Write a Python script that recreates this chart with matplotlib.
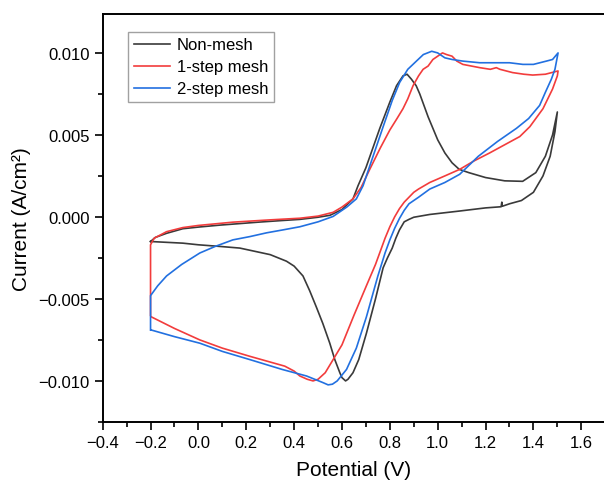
"""
CV comparison: non-mesh vs 1-step vs 2-step mesh electrodes.
Values read off the reference figure by eye.
"""

import numpy as np
import matplotlib
matplotlib.use('Agg')
import matplotlib.pyplot as plt
from matplotlib.ticker import MultipleLocator

plt.rcParams['font.family'] = ['Liberation Sans', 'DejaVu Sans']

# ---- data (potential V, current A/cm^2), one full cycle each ----
nonmesh_v = [-0.2, -0.18, -0.133, -0.065, 0.0, 0.09, 0.144, 0.25, 0.35, 0.424,
             0.50, 0.55, 0.60, 0.646, 0.667, 0.70, 0.758, 0.80, 0.828, 0.855,
             0.872, 0.89, 0.91, 0.925, 0.94, 0.96, 0.98, 1.0, 1.03, 1.06, 1.09,
             1.13, 1.20, 1.28, 1.355, 1.41, 1.45, 1.48, 1.50,
             1.49, 1.47, 1.44, 1.40, 1.35, 1.30, 1.27, 1.268, 1.265, 1.2,
             1.092, 0.967, 0.90, 0.88, 0.86, 0.84, 0.825, 0.81, 0.79, 0.772,
             0.74, 0.702, 0.67, 0.646, 0.625, 0.615, 0.60, 0.591, 0.57, 0.549,
             0.52, 0.493, 0.465, 0.437, 0.40, 0.368, 0.30, 0.173, 0.09, 0.0,
             -0.065, -0.2]
nonmesh_i = [-0.00150, -0.00125, -0.00100, -0.00072, -0.00062, -0.00050, -0.00044,
             -0.00032, -0.00022, -0.00015, -0.00002, 0.00010, 0.00045, 0.0011,
             0.0019, 0.0030, 0.0054, 0.0070, 0.0080, 0.0086, 0.0087, 0.0084,
             0.0080, 0.0075, 0.0069, 0.0061, 0.0054, 0.0047, 0.0039, 0.0033,
             0.0029, 0.0027, 0.0024, 0.0022, 0.00217, 0.0027, 0.0037, 0.0050,
             0.0064,
             0.0052, 0.0037, 0.0025, 0.0015, 0.0010, 0.0008, 0.00065, 0.0009,
             0.00062, 0.00055, 0.00036, 0.00015, -0.00002, -0.00015, -0.0003,
             -0.0008, -0.0013, -0.0019, -0.0025, -0.0031,
             -0.0050, -0.0071, -0.0087, -0.0095, -0.0099, -0.0100,
             -0.0098, -0.0095, -0.0087, -0.0077, -0.0065, -0.0055, -0.0045,
             -0.0036, -0.0030, -0.0027, -0.0023, -0.0019, -0.0018, -0.0017,
             -0.0016, -0.0015]

step1_v = [-0.2, -0.2, -0.185, -0.133, -0.065, 0.0, 0.144, 0.30, 0.424, 0.50,
           0.563, 0.60, 0.646, 0.68, 0.716, 0.76, 0.80, 0.83, 0.855, 0.875,
           0.897, 0.92, 0.939, 0.96, 0.98, 1.0, 1.02, 1.037, 1.06, 1.08, 1.105,
           1.176, 1.22, 1.245, 1.26, 1.313, 1.36, 1.397, 1.45, 1.503,
           1.50, 1.48, 1.44, 1.385, 1.343, 1.28, 1.217, 1.15, 1.092, 1.03,
           0.967, 0.92, 0.90, 0.88, 0.86, 0.84, 0.82, 0.80, 0.78, 0.76, 0.74,
           0.702, 0.65, 0.60, 0.563, 0.53, 0.50, 0.479, 0.455, 0.424, 0.40,
           0.361, 0.215, 0.10, 0.006, -0.10, -0.196]
step1_i = [-0.0060, -0.0017, -0.0013, -0.0009, -0.00065, -0.00052, -0.00032,
           -0.00018, -0.00008, 0.00005, 0.00028, 0.0006, 0.0011, 0.0018, 0.0029,
           0.0042, 0.0053, 0.0060, 0.0066, 0.0072, 0.0080, 0.0086, 0.0090,
           0.0092, 0.0096, 0.0098, 0.0100, 0.0099, 0.0098, 0.0095, 0.0093,
           0.0091, 0.0090, 0.0091, 0.0090, 0.0088, 0.0087, 0.00865, 0.0087,
           0.0089,
           0.0086, 0.0078, 0.0066, 0.0055, 0.0049, 0.0044, 0.0039, 0.0034,
           0.0029, 0.0025, 0.0021, 0.0017, 0.0015, 0.0012, 0.0009, 0.0005,
           0.0000, -0.0006, -0.0013, -0.0021, -0.0029,
           -0.0042, -0.0060, -0.0078, -0.0087, -0.0095,
           -0.0099, -0.0100, -0.0099, -0.0097, -0.0094, -0.0091, -0.0085,
           -0.0080, -0.0075, -0.0068, -0.0061]

step2_v = [-0.2, -0.2, -0.17, -0.133, -0.07, 0.006, 0.07, 0.144, 0.215, 0.285,
           0.35, 0.424, 0.50, 0.563, 0.62, 0.66, 0.688, 0.73, 0.772, 0.81,
           0.841, 0.875, 0.911, 0.94, 0.975, 1.00, 1.03, 1.06, 1.105, 1.176,
           1.25, 1.30, 1.356, 1.40, 1.454, 1.48, 1.503,
           1.49, 1.475, 1.45, 1.426, 1.38, 1.329, 1.25, 1.17, 1.092, 1.03,
           0.967, 0.92, 0.90, 0.88, 0.86, 0.84, 0.82, 0.80, 0.78, 0.75,
           0.702, 0.66, 0.619, 0.58, 0.56, 0.542, 0.52, 0.452, 0.35, 0.215,
           0.10, 0.006, -0.10, -0.196]
step2_i = [-0.0069, -0.0048, -0.0042, -0.0036, -0.0029, -0.0022, -0.0018,
           -0.0014, -0.0012, -0.00097, -0.0008, -0.0006, -0.0003, 0.00003,
           0.0006, 0.0011, 0.0019, 0.0037, 0.0055, 0.0071, 0.0082, 0.0090,
           0.0095, 0.0099, 0.0101, 0.0100, 0.0097, 0.0096, 0.0095, 0.0094,
           0.0094, 0.0094, 0.0093, 0.0093, 0.0095, 0.0096, 0.0100,
           0.0090, 0.0084, 0.0076, 0.0068, 0.0060, 0.0054, 0.0046, 0.0037,
           0.0026, 0.0021, 0.0017, 0.0012, 0.0010, 0.0008, 0.0004, -0.0001,
           -0.0007, -0.0014, -0.0022, -0.0036,
           -0.0061, -0.0080, -0.0093, -0.0100, -0.0102,
           -0.01024, -0.0101, -0.0097, -0.0093, -0.0087, -0.0082, -0.0077,
           -0.0073, -0.0069]

labels = ['Non-mesh', '1-step mesh', '2-step mesh']
colors = ['#3a3a3a', '#f23c3c', '#2270e0']

fig = plt.figure(figsize=(6.04, 4.85), dpi=100)
# right spine sits just outside the picture, like the cropped original
ax = fig.add_axes([0.170, 0.128, 0.832, 0.842])

series = [(nonmesh_v, nonmesh_i), (step1_v, step1_i), (step2_v, step2_i)]
for (v, i), lab, c in zip(series, labels, colors):
    ax.plot(v, i, color=c, lw=1.2, label=lab)

ax.set_xlim(-0.4, 1.7)
ax.set_ylim(-0.0125, 0.0124)
ax.xaxis.set_major_locator(MultipleLocator(0.2))
ax.xaxis.set_minor_locator(MultipleLocator(0.1))
ax.yaxis.set_major_locator(MultipleLocator(0.005))
ax.yaxis.set_minor_locator(MultipleLocator(0.0025))
ax.xaxis.set_major_formatter(plt.FuncFormatter(lambda x, p: f'{x:.1f}'.replace('-', '\u2212')))
ax.yaxis.set_major_formatter(plt.FuncFormatter(lambda y, p: f'{y:.3f}'.replace('-', '\u2212')))

ax.tick_params(which='both', direction='out', width=1.2, labelsize=12,
               top=False, right=False)
ax.tick_params(which='major', length=6)
ax.tick_params(which='minor', length=3.5)
for s in ax.spines.values():
    s.set_linewidth(1.4)

ax.set_xlabel('Potential (V)', fontsize=15, labelpad=7)
ax.set_ylabel('Current (A/cm\u00b2)', fontsize=15, labelpad=5)

leg = ax.legend(loc='upper left', bbox_to_anchor=(0.050, 0.956),
                borderaxespad=0, fancybox=False, edgecolor='#8a8a8a',
                fontsize=12, handlelength=2.2, handletextpad=0.4,
                labelspacing=0.42, borderpad=0.35)
leg.get_frame().set_linewidth(1.0)

fig.savefig('out.png', dpi=100, facecolor='white')
